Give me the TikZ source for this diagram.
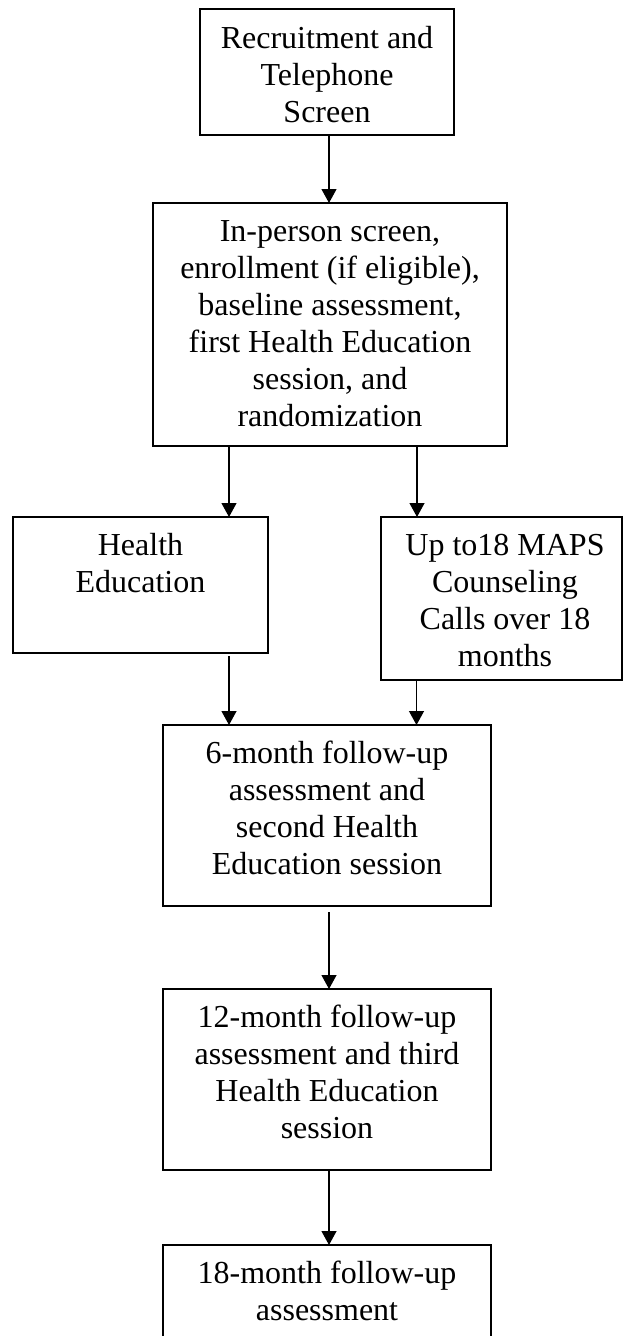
\documentclass[tikz,border=0pt]{standalone}
\usepackage{fontspec}
\setmainfont{Liberation Serif}
\usetikzlibrary{arrows.meta}
\newcommand{\firstline}{\rule{0pt}{30pt}}
\tikzset{
  boxnode/.style={draw, line width=1.3pt, anchor=north west, inner sep=0pt, outer sep=0pt},
  txt/.style={anchor=north, align=center, inner sep=0pt, font=\fontsize{32}{37}\selectfont},
  conn/.style={line width=1.2pt, -{Triangle[width=15pt,length=14pt]}}
}
\begin{document}
\begin{tikzpicture}[x=1pt,y=-1pt]
\useasboundingbox (0,0) rectangle (624,1336);
% boxes
\node[boxnode, minimum width=254pt, minimum height=126pt] (b1) at (200,9) {};
\node[boxnode, minimum width=354pt, minimum height=243pt] (b2) at (153,203) {};
\node[boxnode, minimum width=255pt, minimum height=136pt] (b3) at (13,517) {};
\node[boxnode, minimum width=241pt, minimum height=163pt] (b4) at (381,517) {};
\node[boxnode, minimum width=328pt, minimum height=181pt] (b5) at (163,725) {};
\node[boxnode, minimum width=328pt, minimum height=181pt] (b6) at (163,989) {};
\node[boxnode, minimum width=328pt, minimum height=120pt] (b7) at (163,1245) {};
% texts
\node[txt] (t1) at (327,18) {\firstline Recruitment and\\Telephone\\Screen};
\node[txt] (t2) at (330,211) {\firstline In-person screen,\\enrollment (if eligible),\\baseline assessment,\\first Health Education\\session, and\\randomization};
\node[txt] (t3) at (140.5,525) {\firstline Health\\Education};
\node[txt] (t4) at (505,525) {\firstline Up to18 MAPS\\Counseling\\Calls over 18\\months};
\node[txt] (t5) at (327,733) {\firstline 6-month follow-up\\assessment and\\second Health\\Education session};
\node[txt] (t6) at (327,997) {\firstline 12-month follow-up\\assessment and third\\Health Education\\session};
\node[txt] (t7) at (327,1253) {\firstline 18-month follow-up\\assessment};
% connector anchors
\coordinate (p1) at ([xshift=2pt]b1.south);
\coordinate (p2) at ([xshift=-101pt]b2.south);
\coordinate (p3) at ([xshift=87pt]b2.south);
\coordinate (p4) at ([xshift=88.5pt]b3.south);
\coordinate (p5) at ([xshift=-85pt]b4.south);
\coordinate (p6) at ([xshift=2pt]b5.south);
\coordinate (p7) at ([xshift=2pt]b6.south);
% connectors
\draw[conn] (p1) -- (p1 |- b2.north);
\draw[conn] (p2) -- (p2 |- b3.north);
\draw[conn] (p3) -- (p3 |- b4.north);
\draw[conn, shorten <=3pt] (p4) -- (p4 |- b5.north);
\draw[conn] (p5) -- (p5 |- b5.north);
\draw[conn, shorten <=6pt] (p6) -- (p6 |- b6.north);
\draw[conn] (p7) -- (p7 |- b7.north);
\end{tikzpicture}
\end{document}
